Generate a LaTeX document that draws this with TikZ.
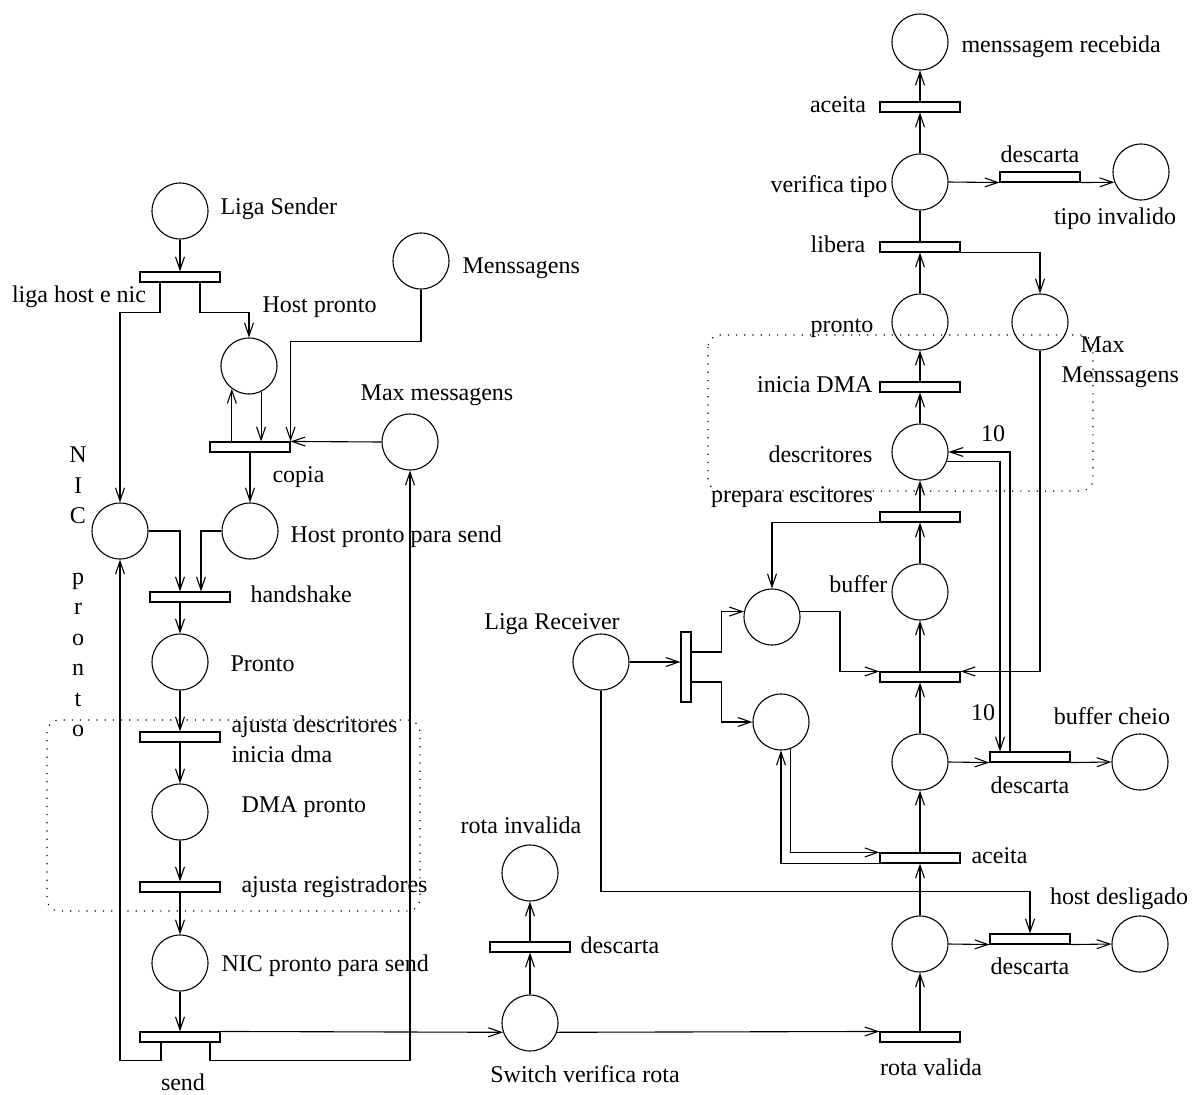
\documentclass[tikz,border=0pt]{standalone}
\usepackage{fontspec}
\setmainfont{Liberation Serif}
\usetikzlibrary{arrows.meta,calc}
\begin{document}
\begin{tikzpicture}[x=1pt,y=-1pt,
  line width=1.1pt,
  >={Straight Barb[length=13pt,width=9pt]},
  every node/.style={font=\fontsize{24}{28}\selectfont},
  place/.style={circle,draw,minimum size=56pt,inner sep=0pt},
  trans/.style={rectangle,draw,minimum width=80pt,minimum height=10pt,inner sep=0pt},
  vtrans/.style={rectangle,draw,minimum width=10pt,minimum height=70pt,inner sep=0pt},
  lbl/.style={inner sep=0pt,text height=18.5pt,text depth=3pt},
  group/.style={dash pattern=on 1.2pt off 7pt,rounded corners=12pt,line width=1.1pt}]
\useasboundingbox (0,0) rectangle (1192,1095);

% dotted groups
\draw[group] (47,720) rectangle (420,911);
\draw[group] (708,335) rectangle (1093,491);

% ---------- left: sender ----------
\node[place] (ls) at (180,211) {};
\node[trans] (tlh) at (180,277) {};
\node[place] (hp) at (249,366) {};
\node[place] (men) at (421,261) {};
\node[trans] (tcp) at (250,447) {};
\node[place] (maxm) at (410,442) {};
\node[place] (hps) at (250,531) {};
\node[place] (nic) at (120,531) {};
\node[trans] (ths) at (190,597) {};
\node[place] (pr) at (180,662) {};
\node[trans] (tad) at (180,737) {};
\node[place] (dma) at (180,812) {};
\node[trans] (tar) at (180,887) {};
\node[place] (nps) at (180,963) {};
\node[trans] (tsend) at (180,1037) {};

% ---------- middle: switch ----------
\node[place] (sw) at (530,1023) {};
\node[trans] (tdi) at (530,947) {};
\node[place] (ri) at (530,873) {};

% ---------- right: receiver ----------
\node[trans] (trv) at (920,1037) {};
\node[place] (prv) at (920,944) {};
\node[trans] (thd) at (1030,939) {};
\node[place] (hd) at (1140,944) {};
\node[trans] (tac) at (920,858) {};
\node[place] (pa) at (781,722) {};
\node[place] (pb) at (920,762) {};
\node[trans] (tbc) at (1030,757) {};
\node[place] (bc) at (1140,762) {};
\node[trans] (tm) at (920,677) {};
\node[place] (buf) at (920,592) {};
\node[trans] (tpe) at (920,517) {};
\node[place] (pc) at (772,617) {};
\node[place] (desc) at (920,452) {};
\node[place] (lr) at (601,662) {};
\node[vtrans] (tv) at (686,667) {};
\node[trans] (tid) at (920,387) {};
\node[place] (pro) at (920,322) {};
\node[place] (mm) at (1040,322) {};
\node[trans] (tlib) at (920,247) {};
\node[place] (vt) at (920,182) {};
\node[trans] (tdt) at (1040,177) {};
\node[place] (ti) at (1141,172) {};
\node[trans] (tacc) at (920,107) {};
\node[place] (mr) at (920,42) {};

% ---------- labels ----------
\node[lbl,anchor=west] (l1) at (220,207) {Liga Sender};
\node[lbl] (l2) at (79,295) {liga host e nic};
\node[lbl,anchor=west] (l3) at (262,305) {Host pronto};
\node[lbl,anchor=west] (l4) at (462,266) {Menssagens};
\node[lbl] (l5) at (437,393) {Max messagens};
\node[lbl,anchor=west] (l6) at (272,475) {copia};
\node[lbl,anchor=west] (l7) at (290,535) {Host pronto para send};
\node[inner sep=0pt,align=center,font=\fontsize{24}{30.4}\selectfont] (l8) at (78,592)
  {N\\I\\C\\\strut\\p\\r\\o\\n\\t\\o};
\node[lbl,anchor=west] (l9) at (250,595) {handshake};
\node[lbl,anchor=west] (l10) at (230,664) {Pronto};
\node[lbl,anchor=west] (l11) at (231,725) {ajusta descritores};
\node[lbl,anchor=west] (l12) at (231,755) {inicia dma};
\node[lbl,anchor=west] (l13) at (241,805) {DMA pronto};
\node[lbl,anchor=west] (l14) at (241,885) {ajusta registradores};
\node[lbl,anchor=west] (l15) at (221,964) {NIC pronto para send};
\node[lbl] (l16) at (183,1083) {send};
\node[lbl] (l17) at (521,826) {rota invalida};
\node[lbl,anchor=west] (l18) at (580,946) {descarta};
\node[lbl] (l19) at (585,1075) {Switch verifica rota};
\node[lbl] (l20) at (931,1068) {rota valida};
\node[lbl] (l21) at (1030,967) {descarta};
\node[lbl] (l22) at (1119,897) {host desligado};
\node[lbl,anchor=west] (l23) at (971,856) {aceita};
\node[lbl] (l24) at (983,713) {10};
\node[lbl] (l25) at (1112,717) {buffer cheio};
\node[lbl] (l26) at (1030,786) {descarta};
\node[lbl,anchor=east] (l27) at (888,585) {buffer};
\node[lbl] (l28) at (792,495) {prepara escitores};
\node[lbl,anchor=east] (l29) at (873,455) {descritores};
\node[lbl] (l30) at (993,434) {10};
\node[lbl] (l31) at (552,622) {Liga Receiver};
\node[lbl,anchor=east] (l32) at (873,385) {inicia DMA};
\node[lbl] (l33) at (842,325) {pronto};
\node[lbl,anchor=west] (l34) at (1080,345) {Max};
\node[lbl,anchor=west] (l35) at (1061,375) {Menssagens};
\node[lbl] (l36) at (838,245) {libera};
\node[lbl] (l37) at (829,185) {verifica tipo};
\node[lbl] (l38) at (838,105) {aceita};
\node[lbl] (l39) at (1040,155) {descarta};
\node[lbl] (l40) at (1115,217) {tipo invalido};
\node[lbl,anchor=west] (l41) at (961,45) {menssagem recebida};

% ---------- arcs: sender ----------
\draw[->] (ls) -- (tlh);
\draw[->] ($(tlh.south)+(-20,0)$) -- ++(0,30) -| (nic.north);
\draw[->] ($(tlh.south)+(20,0)$) -- ++(0,30) -| (hp.north);
\draw[->] (men.south) -- ++(0,52) -| (tcp.north east);
\draw[->] (hp.-65) -- (hp.-65 |- tcp.north);
\draw[->] (hp.-127 |- tcp.north) -- (hp.-127);
\draw[->] (maxm.west) -- (tcp.north east);
\draw[->] (tcp) -- (hps);
\draw[->] (nic.east) -| ($(ths.north)+(-10,0)$);
\draw[->] (hps.west) -| ($(ths.north)+(11,0)$);
\draw[->] ($(ths.south)+(-10,0)$) -- (pr.north);
\draw[->] (pr) -- (tad);
\draw[->] (tad) -- (dma);
\draw[->] (dma) -- (tar);
\draw[->] (tar) -- (nps);
\draw[->] (nps) -- (tsend);
\draw[->] ($(tsend.south)+(-19,0)$) -- ++(0,18) -| (nic.south);
\draw[->] ($(tsend.south)+(30,0)$) -- ++(0,18) -| (maxm.south);
\draw[->] (tsend.north east) -- (sw.199);

% ---------- arcs: switch ----------
\draw[->] (sw) -- (tdi);
\draw[->] (tdi) -- (ri);
\draw[->] (sw.-19) -- (trv.north west);

% ---------- arcs: receiver ----------
\draw[->] (trv) -- (prv);
\draw[->] (prv.east) -- (thd.south west);
\draw[->] (thd.south east) -- (hd.west);
\draw[->] (lr.south) -- ++(0,201) -| (thd.north);
\draw[->] (prv) -- (tac);
\draw[->] (pa.-71) -- (pa.-71 |- tac.north) -- (tac.north west);
\draw[->] (tac.south west) -| (pa.south);
\draw[->] (tac) -- (pb);
\draw[->] (pb.east) -- (tbc.south west);
\draw[->] (tbc.south east) -- (bc.west);
\draw[->] (desc.-19) -| ($(tbc.north)+(-30,0)$);
\draw[->] ($(tbc.north)+(-20,0)$) |- (desc.east);
\draw[->] (pb) -- (tm);
\draw[->] (tm) -- (buf);
\draw[->] (buf) -- (tpe);
\draw[->] (tpe) -- (desc);
\draw[->] (tpe.south west) -| (pc.north);
\draw[->] (pc.11) -- ++(40,0) |- (tm.north west);
\draw[->] (mm.south) |- (tm.north east);
\draw[->] (lr.east) -- (lr.east -| tv.west);
\draw[->] ($(tv.east)+(0,-15)$) -- ++(30,0) |- (pc.169);
\draw[->] ($(tv.east)+(0,15)$) -- ++(30,0) |- (pa.west);
\draw[->] (desc) -- (tid);
\draw[->] (tid) -- (pro);
\draw[->] (pro) -- (tlib);
\draw[->] (tlib.south east) -| (mm.north);
\draw (tlib) -- (vt);
\draw[->] (vt.east) -- (tdt.south west);
\draw[->] (tdt.south east) -- (ti.201);
\draw[->] (vt) -- (tacc);
\draw[->] (tacc) -- (mr);
\end{tikzpicture}
\end{document}
